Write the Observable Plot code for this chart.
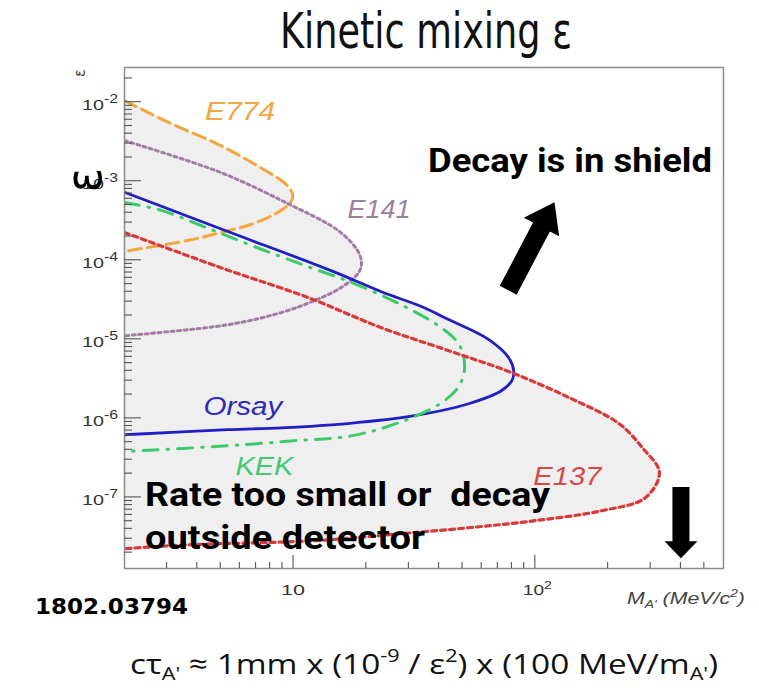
<!DOCTYPE html>
<html><head><meta charset="utf-8">
<script src="https://cdn.jsdelivr.net/npm/d3@7"></script>
<script src="https://cdn.jsdelivr.net/npm/@observablehq/plot@0.6"></script>
<style>body{margin:0;background:#fff;} #chart svg{display:block} text{white-space:pre}</style>
</head><body><div id="chart"></div>
<script>
// ---- data (mass in MeV/c^2, epsilon) ----
const massDomain = [2, 600];
const epsDomain = [1.26e-8, 0.0275];

const e774Mass = [2.0, 3.1, 5.0, 7.3, 9.0, 9.5, 9.9, 9.8, 8.9, 6.85, 5.0, 3.65, 2.0];
const e774Eps  = [1.05e-2, 5.4e-3, 2.83e-3, 1.49e-3, 1.0e-3, 8.6e-4, 7.0e-4, 5.6e-4, 4.3e-4, 2.92e-4, 2.25e-4, 1.78e-4, 1.30e-4];

const e141Mass = [2.0, 5.0, 9.5, 15.3, 18.4, 19.1, 18.6, 15.7, 12.2, 8.9, 5.35, 2.0];
const e141Eps  = [3.27e-3, 1.29e-3, 5.2e-4, 2.38e-4, 1.33e-4, 9.3e-5, 6.98e-5, 4.5e-5, 3.09e-5, 2.18e-5, 1.53e-5, 1.11e-5];

const orsayMass = [2.0, 5.35, 14.3, 23.1, 33.8, 43.8, 64, 77.6, 81.4, 80.0, 72.6, 53, 31.6, 16.8, 8.9, 5.35, 2.0];
const orsayEps  = [7.26e-4, 2.31e-4, 7.4e-5, 4.0e-5, 2.6e-5, 1.78e-5, 1.0e-5, 5.86e-6, 4.0e-6, 3.0e-6, 2.25e-6, 1.53e-6, 1.08e-6, 8.6e-7, 7.6e-7, 7.2e-7, 6.2e-7];

const kekMass = [2.0, 2.86, 4.47, 6.85, 10.9, 17.0, 26.6, 40.2, 48.5, 51.0, 48.5, 41, 27.2, 17.3, 10.0, 5.35, 2.0];
const kekEps  = [5.4e-4, 4.25e-4, 2.51e-4, 1.5e-4, 8.8e-5, 5.37e-5, 2.94e-5, 1.45e-5, 8.5e-6, 4.5e-6, 2.6e-6, 1.58e-6, 8.8e-7, 6.0e-7, 5.2e-7, 4.5e-7, 3.8e-7];

const e137Mass = [2.0, 5.0, 11.5, 23.1, 43.8, 80, 138, 222, 277, 326, 285, 189, 99.6, 53, 27.9, 12.2, 3.65, 2.0];
const e137Eps  = [2.25e-4, 8.07e-5, 3.37e-5, 1.40e-5, 7.19e-6, 3.78e-6, 1.83e-6, 8.57e-7, 4.26e-7, 2.06e-7, 9.9e-8, 6.8e-8, 5.07e-8, 4.13e-8, 3.47e-8, 2.83e-8, 2.51e-8, 2.24e-8];

const curveNames = ["E774", "E141", "Orsay", "KEK", "E137"];
const labelMass = [4.33, 16.8, 4.26, 5.78, 98.6];
const labelEps  = [5.86e-3, 3.37e-4, 1.08e-6, 1.88e-7, 1.41e-7];

const yMajorTicks = [1e-2, 1e-3, 1e-4, 1e-5, 1e-6, 1e-7];
const yTickExp = ["-2", "-3", "-4", "-5", "-6", "-7"];
const xMajorTicks = [10, 100];
const xTickExp = ["", "2"];

const arrowMassFrom = [77.6, 402];
const arrowEpsFrom  = [4.12e-5, 1.33e-7];
const arrowMassTo   = [120.6, 402];
const arrowEpsTo    = [5.35e-4, 1.67e-8];

// ---- styles ----
const curveStyle = {
  E774:  {stroke: "#f3a63c", width: 3, dash: "13,6", label: "#f2a540", lw: 70},
  E141:  {stroke: "#a47aa6", width: 3, dash: "3,3.5", label: "#9d809f", lw: 63},
  Orsay: {stroke: "#1f1fc4", width: 2.8, dash: null, label: "#2b2bb5", lw: 79},
  KEK:   {stroke: "#3dcb6a", width: 3, dash: "15,9,1.5,9", label: "#44c874", lw: 58},
  E137:  {stroke: "#d83a3a", width: 3.2, dash: "5,4", label: "#d94848", lw: 68}
};
const arrowStyle = [{shaft: 19, headW: 40, headL: 28}, {shaft: 17, headW: 33, headL: 17}];

// minor tick positions (2..9 x decade)
const yMinorTicks = [], xMinorTicks = [];
for (let e = -9; e <= -1; e++) for (let k = 2; k <= 9; k++) { const v = k * 10 ** e; if (v > epsDomain[0] && v < epsDomain[1]) yMinorTicks.push(v); }
for (let e = 0; e <= 2; e++) for (let k = 2; k <= 9; k++) { const v = k * 10 ** e; if (v > massDomain[0] && v < massDomain[1]) xMinorTicks.push(v); }

const curves = [
  [e774Mass, e774Eps], [e141Mass, e141Eps], [orsayMass, orsayEps], [kekMass, kekEps], [e137Mass, e137Eps]
].map(([m, e], i) => ({name: curveNames[i], rows: m.map((v, j) => ({mass: v, eps: e[j]}))}));

function axesRender(index, scales, values, dims) {
  const {x, y} = scales;
  const L = dims.marginLeft, B = dims.height - dims.marginBottom;
  const g = d3.create("svg:g");
  const tk = g.append("g").attr("stroke", "#555").attr("stroke-width", 1.1);
  for (const v of yMinorTicks) tk.append("line").attr("x1", L).attr("x2", L + 8).attr("y1", y(v)).attr("y2", y(v));
  for (const v of yMajorTicks) tk.append("line").attr("x1", L).attr("x2", L + 17).attr("y1", y(v)).attr("y2", y(v));
  for (const v of xMinorTicks) tk.append("line").attr("x1", x(v)).attr("x2", x(v)).attr("y1", B).attr("y2", B - 6);
  for (const v of xMajorTicks) tk.append("line").attr("x1", x(v)).attr("x2", x(v)).attr("y1", B).attr("y2", B - 13);
  const t = g.append("g").attr("fill", "#333").attr("font-family", "Liberation Sans, Arial, sans-serif").attr("font-size", 15);
  yMajorTicks.forEach((v, i) => {
    const tx = t.append("text").attr("x", L - 42).attr("y", y(v) + 8).attr("text-anchor", "start")
      .attr("textLength", 36).attr("lengthAdjust", "spacingAndGlyphs");
    tx.append("tspan").text("10");
    tx.append("tspan").attr("dy", -7).attr("font-size", 12).text(yTickExp[i]);
  });
  xMajorTicks.forEach((v, i) => {
    const w = xTickExp[i] ? 29 : 24;
    const tx = t.append("text").attr("x", x(v) - 12).attr("y", B + 27).attr("text-anchor", "start")
      .attr("textLength", w).attr("lengthAdjust", "spacingAndGlyphs");
    tx.append("tspan").text("10");
    if (xTickExp[i]) tx.append("tspan").attr("dy", -6).attr("font-size", 11).text(xTickExp[i]);
  });
  return g.node();
}

function labelsRender(index, scales) {
  const {x, y} = scales;
  const g = d3.create("svg:g").attr("font-family", "Liberation Sans, Arial, sans-serif").attr("font-style", "italic")
    .attr("font-size", 25).attr("text-anchor", "start");
  curveNames.forEach((n, i) => {
    g.append("text").attr("x", x(labelMass[i])).attr("y", y(labelEps[i])).attr("fill", curveStyle[n].label)
      .attr("textLength", curveStyle[n].lw).attr("lengthAdjust", "spacingAndGlyphs").text(n);
  });
  return g.node();
}

function arrowsRender(index, scales) {
  const {x, y} = scales;
  const g = d3.create("svg:g");
  arrowMassFrom.forEach((m, i) => {
    const T = [x(m), y(arrowEpsFrom[i])], P = [x(arrowMassTo[i]), y(arrowEpsTo[i])];
    const len = Math.hypot(P[0] - T[0], P[1] - T[1]);
    const u = [(P[0] - T[0]) / len, (P[1] - T[1]) / len], n = [-u[1], u[0]];
    const {shaft, headW, headL} = arrowStyle[i];
    const Bp = [P[0] - u[0] * headL, P[1] - u[1] * headL];
    const pt = (b, s) => [b[0] + n[0] * s, b[1] + n[1] * s];
    const pts = [pt(T, shaft / 2), pt(Bp, shaft / 2), pt(Bp, headW / 2), P, pt(Bp, -headW / 2), pt(Bp, -shaft / 2), pt(T, -shaft / 2)];
    g.append("polygon").attr("points", pts.map(p => p.join(",")).join(" ")).attr("fill", "#000");
  });
  return g.node();
}

const chart = Plot.plot({
  width: 759, height: 688,
  marginLeft: 124, marginRight: 36, marginTop: 67, marginBottom: 120,
  x: {type: "log", domain: massDomain, axis: null},
  y: {type: "log", domain: epsDomain, axis: null},
  style: {background: "#fff"},
  marks: [
    ...curves.map(c => Plot.line(c.rows, {x: "mass", y: "eps", fill: "#efefef", stroke: "none", curve: "catmull-rom", clip: true})),
    ...curves.map(c => Plot.line(c.rows, {x: "mass", y: "eps", stroke: curveStyle[c.name].stroke, strokeWidth: curveStyle[c.name].width,
      strokeDasharray: curveStyle[c.name].dash, curve: "catmull-rom", clip: true})),
    Plot.frame({stroke: "#8c8c8c", strokeWidth: 1.5}),
    axesRender,
    labelsRender,
    arrowsRender
  ]
});
document.getElementById("chart").appendChild(chart);

// ---- annotation texts ----
const svg = d3.select(chart);
function addText(parts, o) {
  const t = svg.append("text").attr("x", o.x).attr("y", o.y).attr("font-family", o.family).attr("font-size", o.size)
    .attr("font-weight", o.weight || "normal").attr("font-style", o.style || "normal").attr("fill", o.fill || "#000")
    .attr("text-anchor", o.anchor || "start");
  let shift = 0;
  for (const [s, kind] of parts) {
    const target = kind === "sub" ? 0.22 * o.size : kind === "sup" ? -0.42 * o.size : 0;
    const sp = t.append("tspan").attr("dy", target - shift).text(s);
    if (kind) sp.attr("font-size", o.size * 0.65);
    shift = target;
  }
  if (o.width) t.attr("textLength", o.width).attr("lengthAdjust", "spacingAndGlyphs");
  return t;
}
const narrow = "Liberation Sans Narrow, DejaVu Sans Condensed, Roboto, sans-serif";
const boldFam = "Roboto, Open Sans, sans-serif";
addText([["Kinetic mixing ε", ""]], {x: 280, y: 48, size: 50, family: narrow, fill: "#111", width: 292});
addText([["Decay is in shield", ""]], {x: 428, y: 172, size: 34, weight: "bold", family: boldFam, width: 284});
addText([["Rate too small or  decay", ""]], {x: 145, y: 506, size: 34, weight: "bold", family: boldFam, width: 405});
addText([["outside detector", ""]], {x: 145, y: 549, size: 34, weight: "bold", family: boldFam, width: 280});
addText([["1802.03794", ""]], {x: 35, y: 614, size: 22, weight: "bold", family: "DejaVu Sans, sans-serif", width: 153});
addText([["M", ""], ["A'", "sub"], [" (MeV/c", ""], ["2", "sup"], [")", ""]],
  {x: 627, y: 604, size: 17, style: "italic", family: "Liberation Sans, Arial, sans-serif", fill: "#444", width: 118});
addText([["cτ", ""], ["A'", "sub"], [" ≈ 1mm x (10", ""], ["-9", "sup"], [" / ε", ""], ["2", "sup"], [") x (100 MeV/m", ""], ["A'", "sub"], [")", ""]],
  {x: 130, y: 674, size: 28, family: "Open Sans, Noto Sans, sans-serif", fill: "#111", width: 588});
// rotated epsilon axis labels
function rotEps(cx, cy, size, fill) {
  svg.append("g").attr("transform", `translate(${cx},${cy}) rotate(-90)`)
    .append("text").attr("x", 0).attr("y", size * 0.25).attr("text-anchor", "middle")
    .attr("font-family", narrow).attr("font-size", size).attr("fill", fill).text("ε");
}
rotEps(81, 73, 16, "#444");
rotEps(88, 180, 50, "#000");
</script>
</body></html>
